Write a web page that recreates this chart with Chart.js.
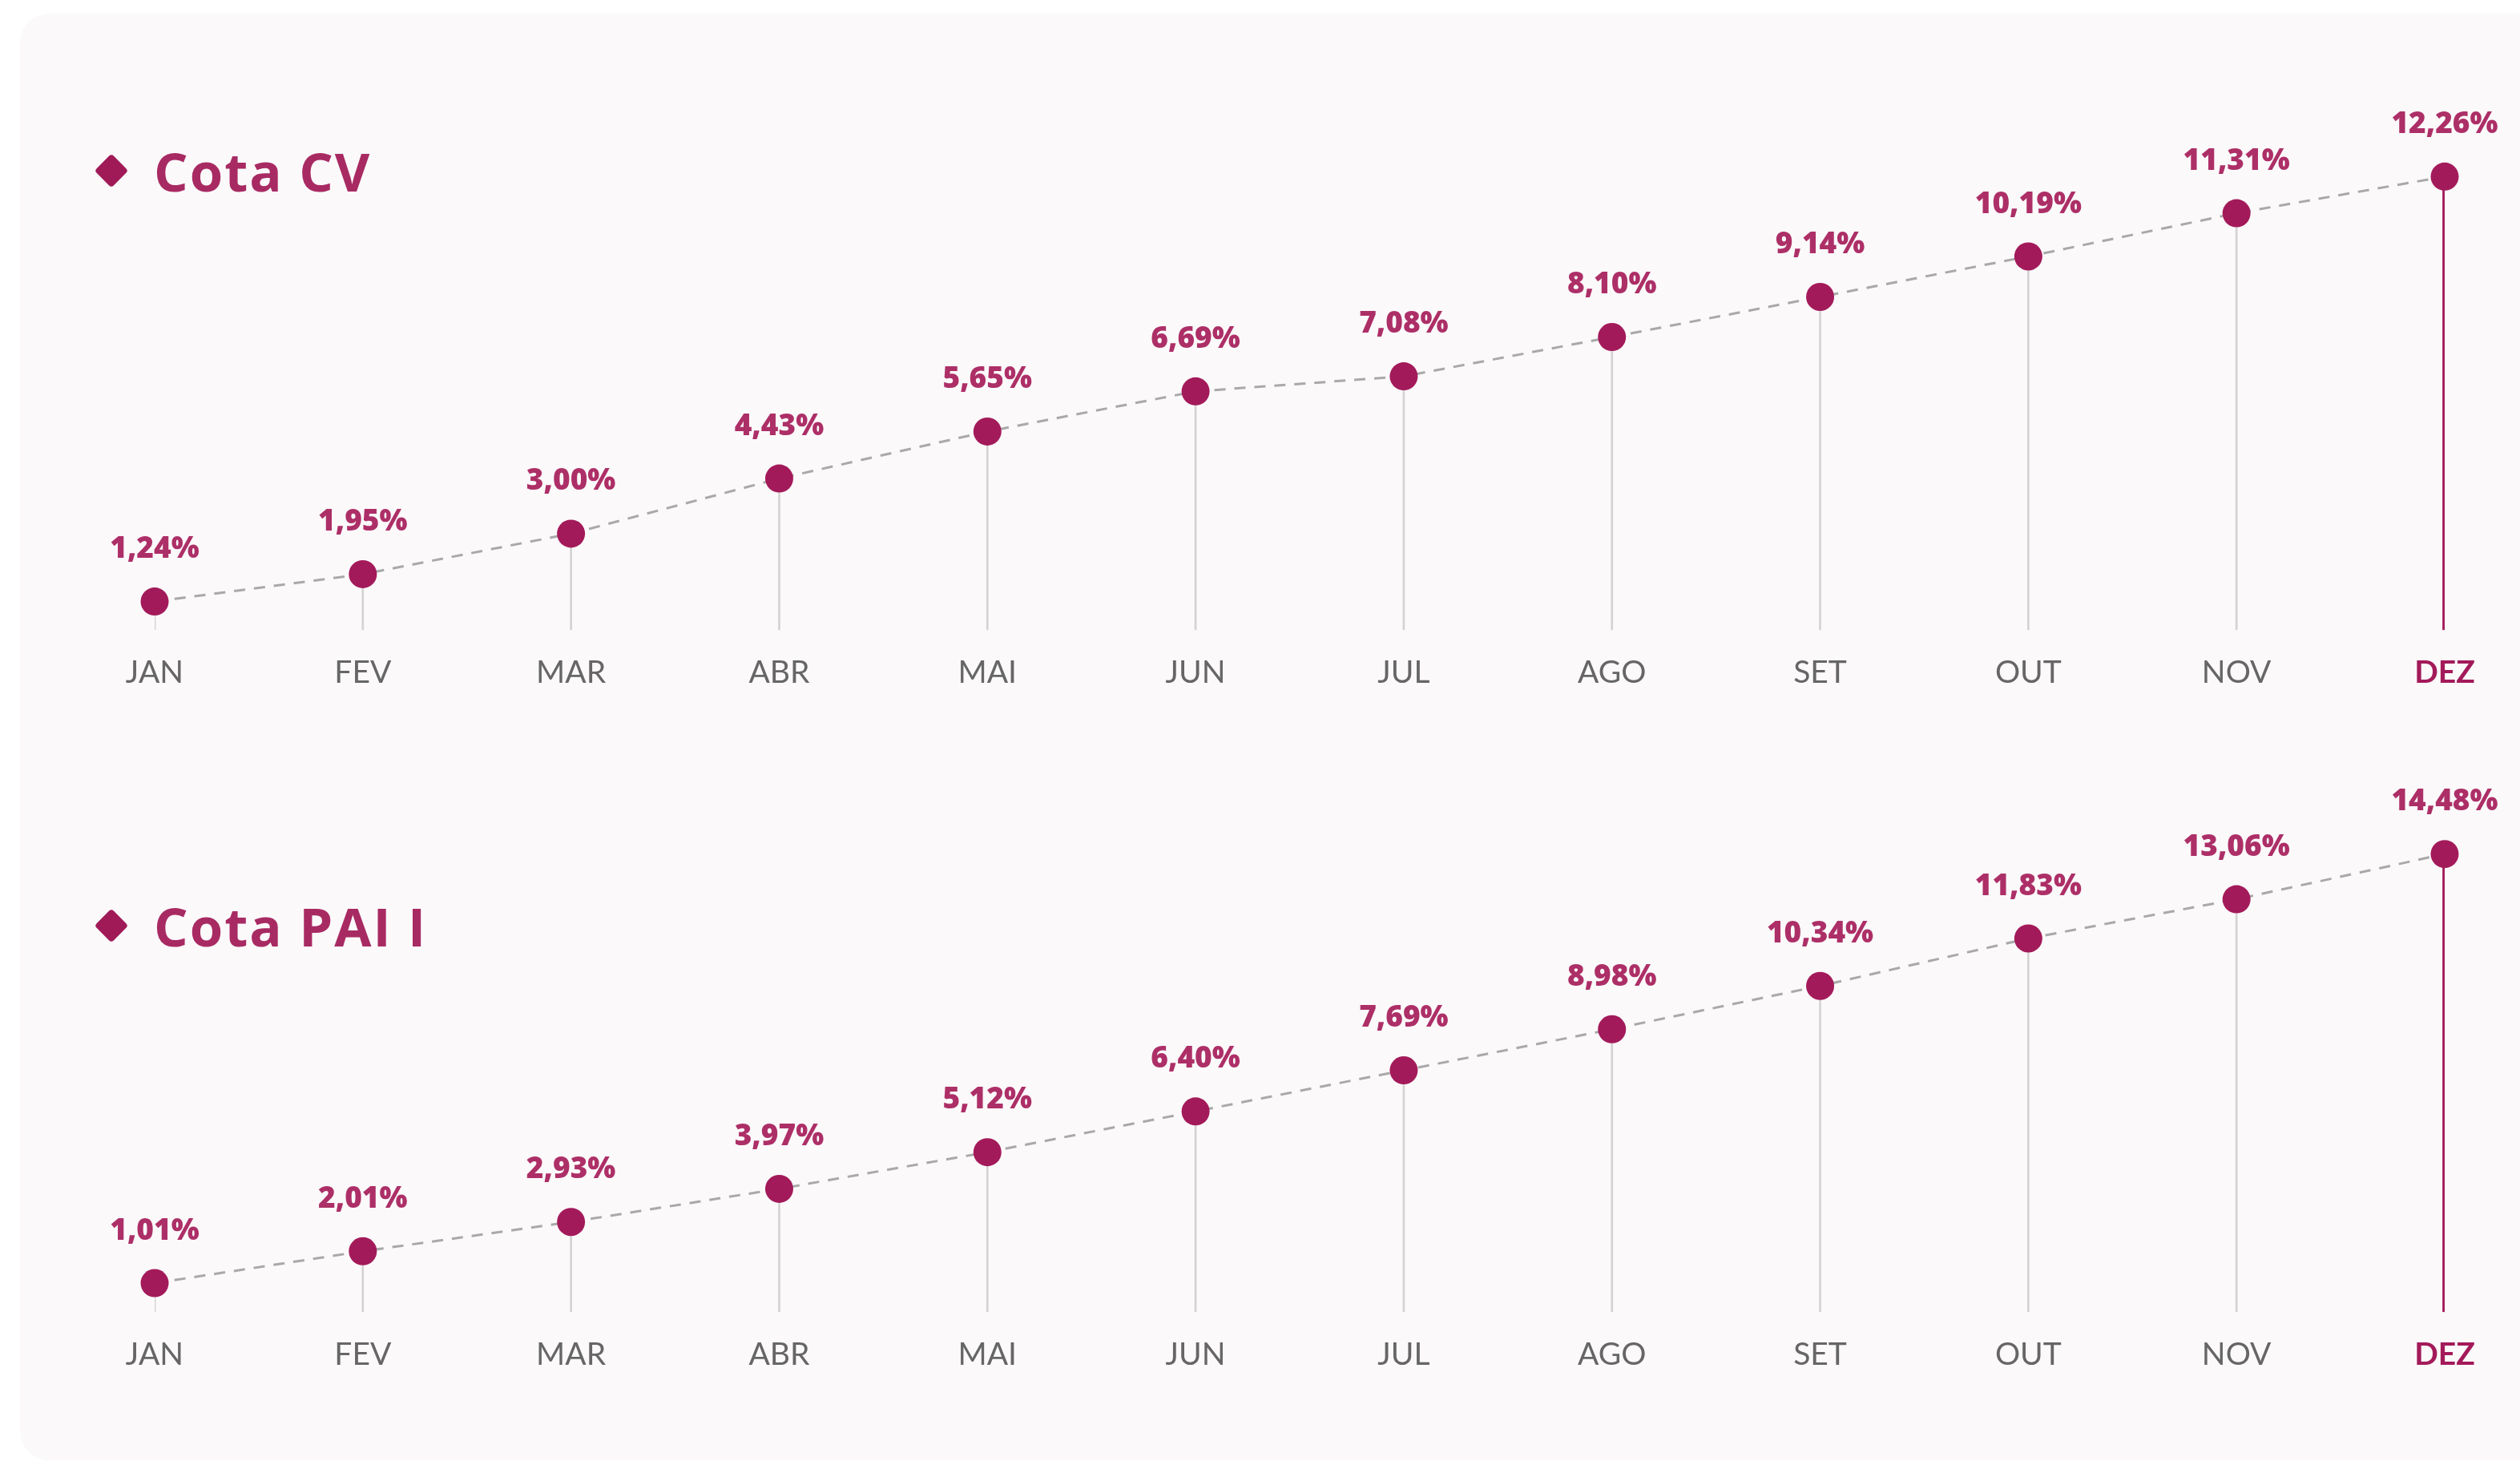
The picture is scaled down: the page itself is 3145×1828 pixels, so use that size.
<!DOCTYPE html>
<html>
<head>
<meta charset="utf-8">
<script src="https://cdn.jsdelivr.net/npm/chart.js@4.4.1/dist/chart.umd.min.js"></script>
<style>
  html, body { margin: 0; padding: 0; background: #ffffff; }
  body { width: 3145px; height: 1828px; position: relative; overflow: hidden; font-family: 'Open Sans', sans-serif; }
  .panel { position: absolute; left: 25px; top: 17px; width: 3160px; height: 1805px; background: #fbf9fa; border-radius: 36px; }
  .title { position: absolute; left: 117px; color: #a82a63; font-weight: 700; font-size: 67px; letter-spacing: 2px; line-height: 1; white-space: nowrap; }
  .title .dia { display: inline-block; width: 30px; height: 30px; background: #a01a58; border-radius: 4px; transform: rotate(45deg); margin: 0 38px 0 7px; vertical-align: 11px; }
  canvas { position: absolute; left: 0; }
</style>
</head>
<body>
<div class="panel"></div>
<div class="title" style="top:180px"><span class="dia"></span>Cota CV</div>
<div class="title" style="top:1122px"><span class="dia"></span>Cota PAI I</div>
<canvas id="chartCV" width="3145" height="893" style="top:0px"></canvas>
<canvas id="chartPAI" width="3145" height="839" style="top:905px"></canvas>
<script>
var meses = ['JAN', 'FEV', 'MAR', 'ABR', 'MAI', 'JUN', 'JUL', 'AGO', 'SET', 'OUT', 'NOV', 'DEZ'];
var cotaCV = [1.24, 1.95, 3.00, 4.43, 5.65, 6.69, 7.08, 8.10, 9.14, 10.19, 11.31, 12.26];
var cotaPAI = [1.01, 2.01, 2.93, 3.97, 5.12, 6.40, 7.69, 8.98, 10.34, 11.83, 13.06, 14.48];

var roxo = '#a31a5a';

// rotulo de cada ponto, "1,24%"
var rotulos = {
    id: 'rotulos',
    afterDatasetsDraw: function(chart) {
        var ctx = chart.ctx;
        var meta = chart.getDatasetMeta(0);
        var valores = chart.data.datasets[0].data;
        ctx.save();
        ctx.font = '800 37px "Open Sans"';
        ctx.fillStyle = '#ad2f67';
        ctx.textAlign = 'center';
        ctx.textBaseline = 'middle';
        meta.data.forEach(function(pt, i) {
            ctx.fillText(valores[i].toFixed(2).replace('.', ',') + '%', pt.x, pt.y - 65);
        });
        ctx.restore();
    }
};

function lollipop(id, valores, yMin, yMax, padTop) {
    var ultimo = valores.length - 1;
    return new Chart(document.getElementById(id), {
        data: {
            labels: meses,
            datasets: [
                {
                    type: 'line',
                    data: valores,
                    borderColor: '#a9a9a9',
                    borderWidth: 3,
                    borderDash: [14, 11],
                    tension: 0,
                    pointRadius: 17.5,
                    pointHoverRadius: 17.5,
                    pointBackgroundColor: roxo,
                    pointBorderWidth: 0,
                    clip: false,
                    order: 0
                },
                {
                    type: 'bar',
                    data: valores.map(function(v, i) { return i < ultimo ? v : null; }),
                    base: yMin,
                    backgroundColor: '#d3d3d3',
                    barThickness: 2,
                    grouped: false,
                    order: 2
                },
                {
                    type: 'bar',
                    data: valores.map(function(v, i) { return i === ultimo ? v : null; }),
                    base: yMin,
                    backgroundColor: roxo,
                    barThickness: 5,
                    grouped: false,
                    order: 1
                }
            ]
        },
        options: {
            responsive: false,
            animation: false,
            layout: { padding: { left: 193, right: 94, top: padTop, bottom: 0 } },
            plugins: { legend: { display: false }, tooltip: { enabled: false } },
            scales: {
                x: {
                    offset: false,
                    grid: { display: false, drawTicks: false },
                    border: { display: false },
                    ticks: {
                        padding: 30,
                        maxRotation: 0,
                        autoSkip: false,
                        color: function(c) { return c.index === ultimo ? roxo : '#666666'; },
                        font: function(c) {
                            return c.index === ultimo
                                ? { family: 'Lato', size: 39, weight: '700' }
                                : { family: 'Lato', size: 39, weight: '400' };
                        }
                    }
                },
                y: { display: false, min: yMin, max: yMax }
            }
        },
        plugins: [rotulos]
    });
}

lollipop('chartCV', cotaCV, 0.5, 12.6, 204);
lollipop('chartPAI', cotaPAI, 0.1, 15, 140);
</script>
</body>
</html>
